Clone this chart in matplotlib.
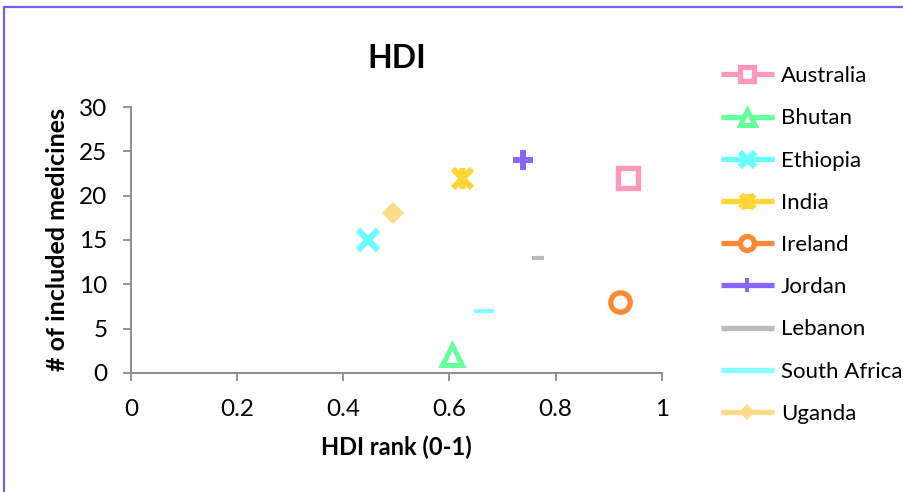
import matplotlib
matplotlib.use("Agg")
import matplotlib.pyplot as plt
from matplotlib.path import Path
from matplotlib.lines import Line2D

plt.rcParams['font.family'] = ['Lato', 'DejaVu Sans']

# HDI rank (0-1) vs number of included medicines, one point per country
countries = ["Australia", "Bhutan", "Ethiopia", "India", "Ireland",
             "Jordan", "Lebanon", "South Africa", "Uganda"]
hdi_rank = [0.936, 0.605, 0.446, 0.623, 0.921, 0.738, 0.766, 0.665, 0.493]
medicines = [22, 2, 15, 22, 8, 24, 13, 7, 18]

x_ticks = [0, 0.2, 0.4, 0.6, 0.8, 1]
x_tick_labels = ["0", "0.2", "0.4", "0.6", "0.8", "1"]
y_ticks = [0, 5, 10, 15, 20, 25, 30]

# asterisk-style marker: an X crossed by a vertical bar
star_path = Path(
    [(-1, -1), (1, 1), (-1, 1), (1, -1), (0, -1.1), (0, 1.1)],
    [Path.MOVETO, Path.LINETO, Path.MOVETO, Path.LINETO, Path.MOVETO, Path.LINETO],
)

styles = {
    "Australia":    dict(color="#FF99BB", marker="s", ms=14, mfc="white", mew=3.8),
    "Bhutan":       dict(color="#66FF99", marker="^", ms=15, mfc="white", mew=3.6),
    "Ethiopia":     dict(color="#66FFFF", marker="x", ms=15, mew=4.4),
    "India":        dict(color="#FFD633", marker=star_path, ms=15, mew=4.4),
    "Ireland":      dict(color="#FF8833", marker="o", ms=14, mfc="white", mew=3.8),
    "Jordan":       dict(color="#8866FF", marker="P", ms=14, mew=0),
    "Lebanon":      dict(color="#BBBBBB", marker="_", ms=8, mew=3.0),
    "South Africa": dict(color="#88FFFF", marker="_", ms=15, mew=3.0),
    "Uganda":       dict(color="#FFDD88", marker="D", ms=11, mew=0),
}

fig = plt.figure(figsize=(9.04, 4.92), dpi=100)
ax = fig.add_axes([0.145, 0.242, 0.587, 0.5405])

for name, xv, yv in zip(countries, hdi_rank, medicines):
    st = dict(styles[name])
    ax.plot([xv], [yv], linestyle="-", linewidth=3.8, label=name,
            solid_capstyle="butt", markeredgecolor=st["color"], **st)

ax.set_xlim(0, 1)
ax.set_ylim(0, 30)
ax.set_xticks(x_ticks)
ax.set_xticklabels(x_tick_labels)
ax.set_yticks(y_ticks)

for side in ("top", "right"):
    ax.spines[side].set_visible(False)
for side in ("left", "bottom"):
    ax.spines[side].set_color("#8C8C8C")
    ax.spines[side].set_linewidth(1.4)
ax.tick_params(axis="both", direction="out", length=6, width=1.3,
               color="#8C8C8C", labelsize=17.5, labelcolor="black")
ax.tick_params(axis="x", pad=13)
ax.tick_params(axis="y", pad=11)

ax.set_title("HDI", fontsize=23, fontweight="bold", pad=28)
ax.set_xlabel("HDI rank (0-1)", fontsize=17, fontweight="bold", labelpad=11)
ax.set_ylabel("# of included medicines", fontsize=18, fontweight="bold", labelpad=7)

fig.legend(loc="center left", bbox_to_anchor=(0.785, 0.502),
           bbox_transform=fig.transFigure, frameon=False, fontsize=16,
           handlelength=2.4, handletextpad=0.3, labelspacing=1.0,
           borderpad=0, markerscale=0.72)

# chart frame visible along the top and left edges
fig.add_artist(Line2D([0.004, 1.0], [0.986, 0.986], transform=fig.transFigure,
                      color="#7A5CF5", linewidth=1.6))
fig.add_artist(Line2D([0.004, 0.004], [0.0, 0.986], transform=fig.transFigure,
                      color="#7A5CF5", linewidth=1.6))

fig.savefig("out.png", dpi=100, facecolor="white")
